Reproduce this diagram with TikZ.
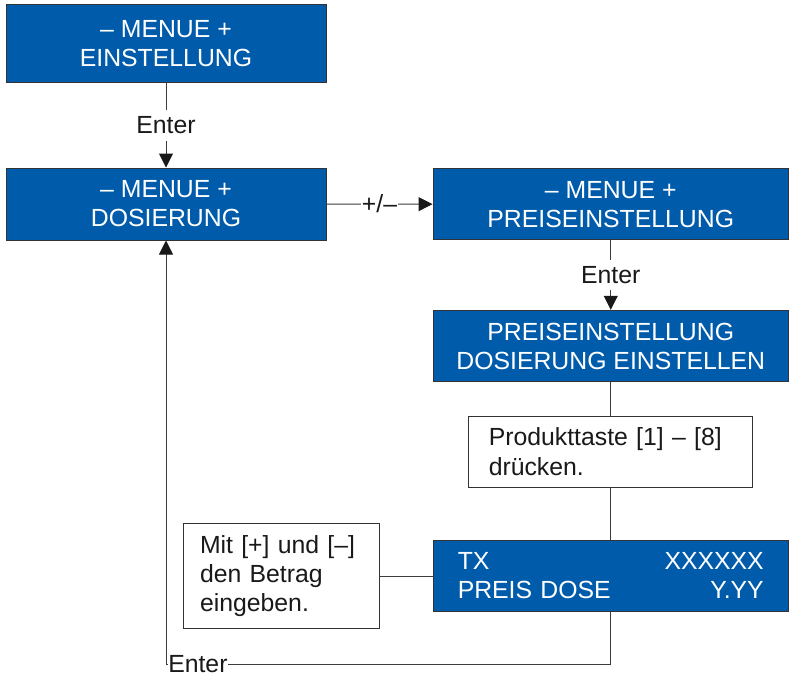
\documentclass[tikz,border=0pt]{standalone}
\usepackage{fontspec}
\setmainfont{Liberation Sans}
\usetikzlibrary{arrows.meta}
\definecolor{menueblau}{RGB}{0,91,170}
\definecolor{rahmen}{RGB}{50,50,55}
\definecolor{linie}{RGB}{60,60,60}

\begin{document}
\begin{tikzpicture}[x=0.75pt,y=0.75pt,yscale=-1,xscale=1,
    blaubox/.style={draw=rahmen, line width=0.75pt, fill=menueblau, text=white, align=center, inner sep=0pt, font=\fontsize{18.6}{21.75}\selectfont},
    weissbox/.style={draw=rahmen, line width=0.75pt, fill=white, text=black!90, align=left, inner sep=0pt, font=\fontsize{18.6}{22}\selectfont},
    beschr/.style={fill=white, text=black!90, inner xsep=1pt, inner ysep=5pt, font=\fontsize{18.6}{22}\selectfont},
    verb/.style={draw=linie, line width=0.75pt},
    pfeil/.style={verb, -{Triangle[length=10.5pt,width=10.5pt,color=black!90]}}]
    \path[use as bounding box] (0,0) rectangle (789,676);

    %Shape: Rectangle [Menue Einstellung]
    \node (einst) at (166,43.85) [blaubox, minimum width=240pt, minimum height=58.5pt] {– MENUE +\\EINSTELLUNG};
    %Shape: Rectangle [Menue Dosierung]
    \node (dosier) at (166,204) [blaubox, minimum width=240pt, minimum height=54pt] {– MENUE +\\DOSIERUNG};
    %Shape: Rectangle [Menue Preiseinstellung]
    \node (preis) at (610.75,204.25) [blaubox, minimum width=266.6pt, minimum height=53.6pt] {– MENUE +\\PREISEINSTELLUNG};
    %Shape: Rectangle [Preiseinstellung Dosierung]
    \node (preisdos) at (610.75,346) [blaubox, minimum width=266.6pt, minimum height=53.6pt] {PREISEINSTELLUNG\\DOSIERUNG EINSTELLEN};
    %Shape: Rectangle [Produkttaste]
    \node (taste) at (610.75,451.7) [weissbox, text width=183pt, minimum width=213.3pt, minimum height=53.5pt] {Produkttaste [1] – [8]\\drücken.};
    %Shape: Rectangle [Anzeige]
    \node (anzeige) at (610.75,576) [blaubox, align=left, text width=229.5pt, minimum width=266.6pt, minimum height=53pt] {TX\hfill XXXXXX\\PREIS DOSE\hfill Y.YY};
    %Shape: Rectangle [Betrag]
    \node (betrag) at (281,576) [weissbox, text width=121.5pt, minimum width=147pt, minimum height=79pt] {Mit [+] und [–]\\den Betrag\\eingeben.};

    % Text Node
    \node (enterzur) at (168,664) [anchor=west, fill=white, text=black!90, inner xsep=0pt, inner ysep=2pt, font=\fontsize{18.6}{22}\selectfont] {Enter};

    %Straight Lines
    \draw[pfeil] (einst) -- node[beschr] {Enter} (dosier);
    \draw[pfeil] (dosier) -- node[beschr] {+/–} (preis);
    \draw[pfeil] (preis) -- node[beschr] {Enter} (preisdos);
    \draw[verb] (preisdos) -- (taste);
    \draw[verb] (taste) -- (anzeige);
    \draw[verb] (betrag) -- (anzeige);
    %Back Lines
    \draw[verb] (anzeige.south) |- (enterzur);
    \draw[pfeil] (enterzur) -| (dosier.south);
\end{tikzpicture}
\end{document}
